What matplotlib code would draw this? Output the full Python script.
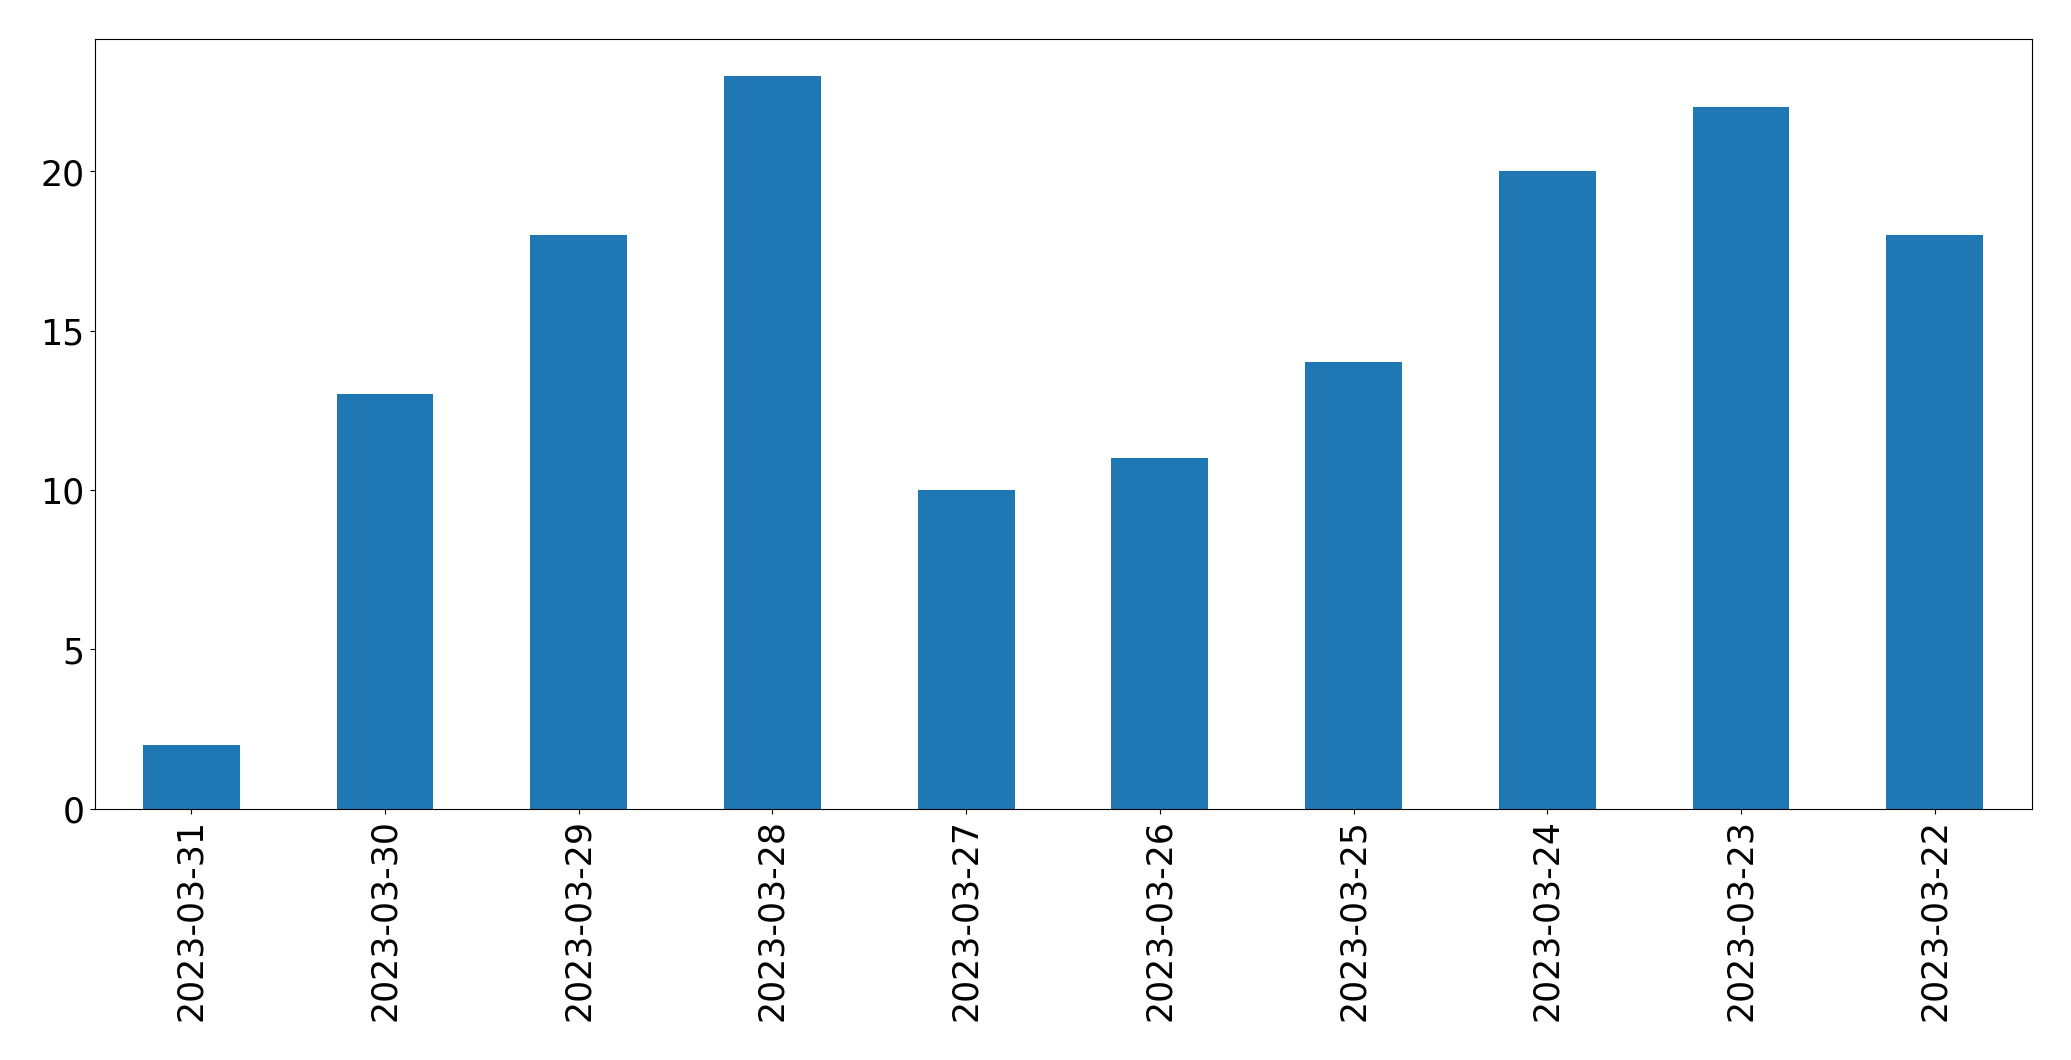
import matplotlib
matplotlib.use("Agg")
import matplotlib.pyplot as plt
import pandas as pd

dates = ["2023-03-31", "2023-03-30", "2023-03-29", "2023-03-28", "2023-03-27",
         "2023-03-26", "2023-03-25", "2023-03-24", "2023-03-23", "2023-03-22"]
counts = [2, 13, 18, 23, 10, 11, 14, 20, 22, 18]

s = pd.Series(counts, index=dates)

fig = plt.figure(figsize=(20.71, 10.605), dpi=100)
ax = fig.add_axes([94.5 / 2071, 1 - 809.5 / 1061, (2031.5 - 94.5) / 2071, (809.5 - 39.5) / 1061])
s.plot(kind="bar", ax=ax, color="#1f77b4", width=0.5)
ax.tick_params(axis="both", labelsize=25)
ax.set_xlim(-0.5, len(dates) - 0.5)
fig.savefig("out.png", dpi=100)
